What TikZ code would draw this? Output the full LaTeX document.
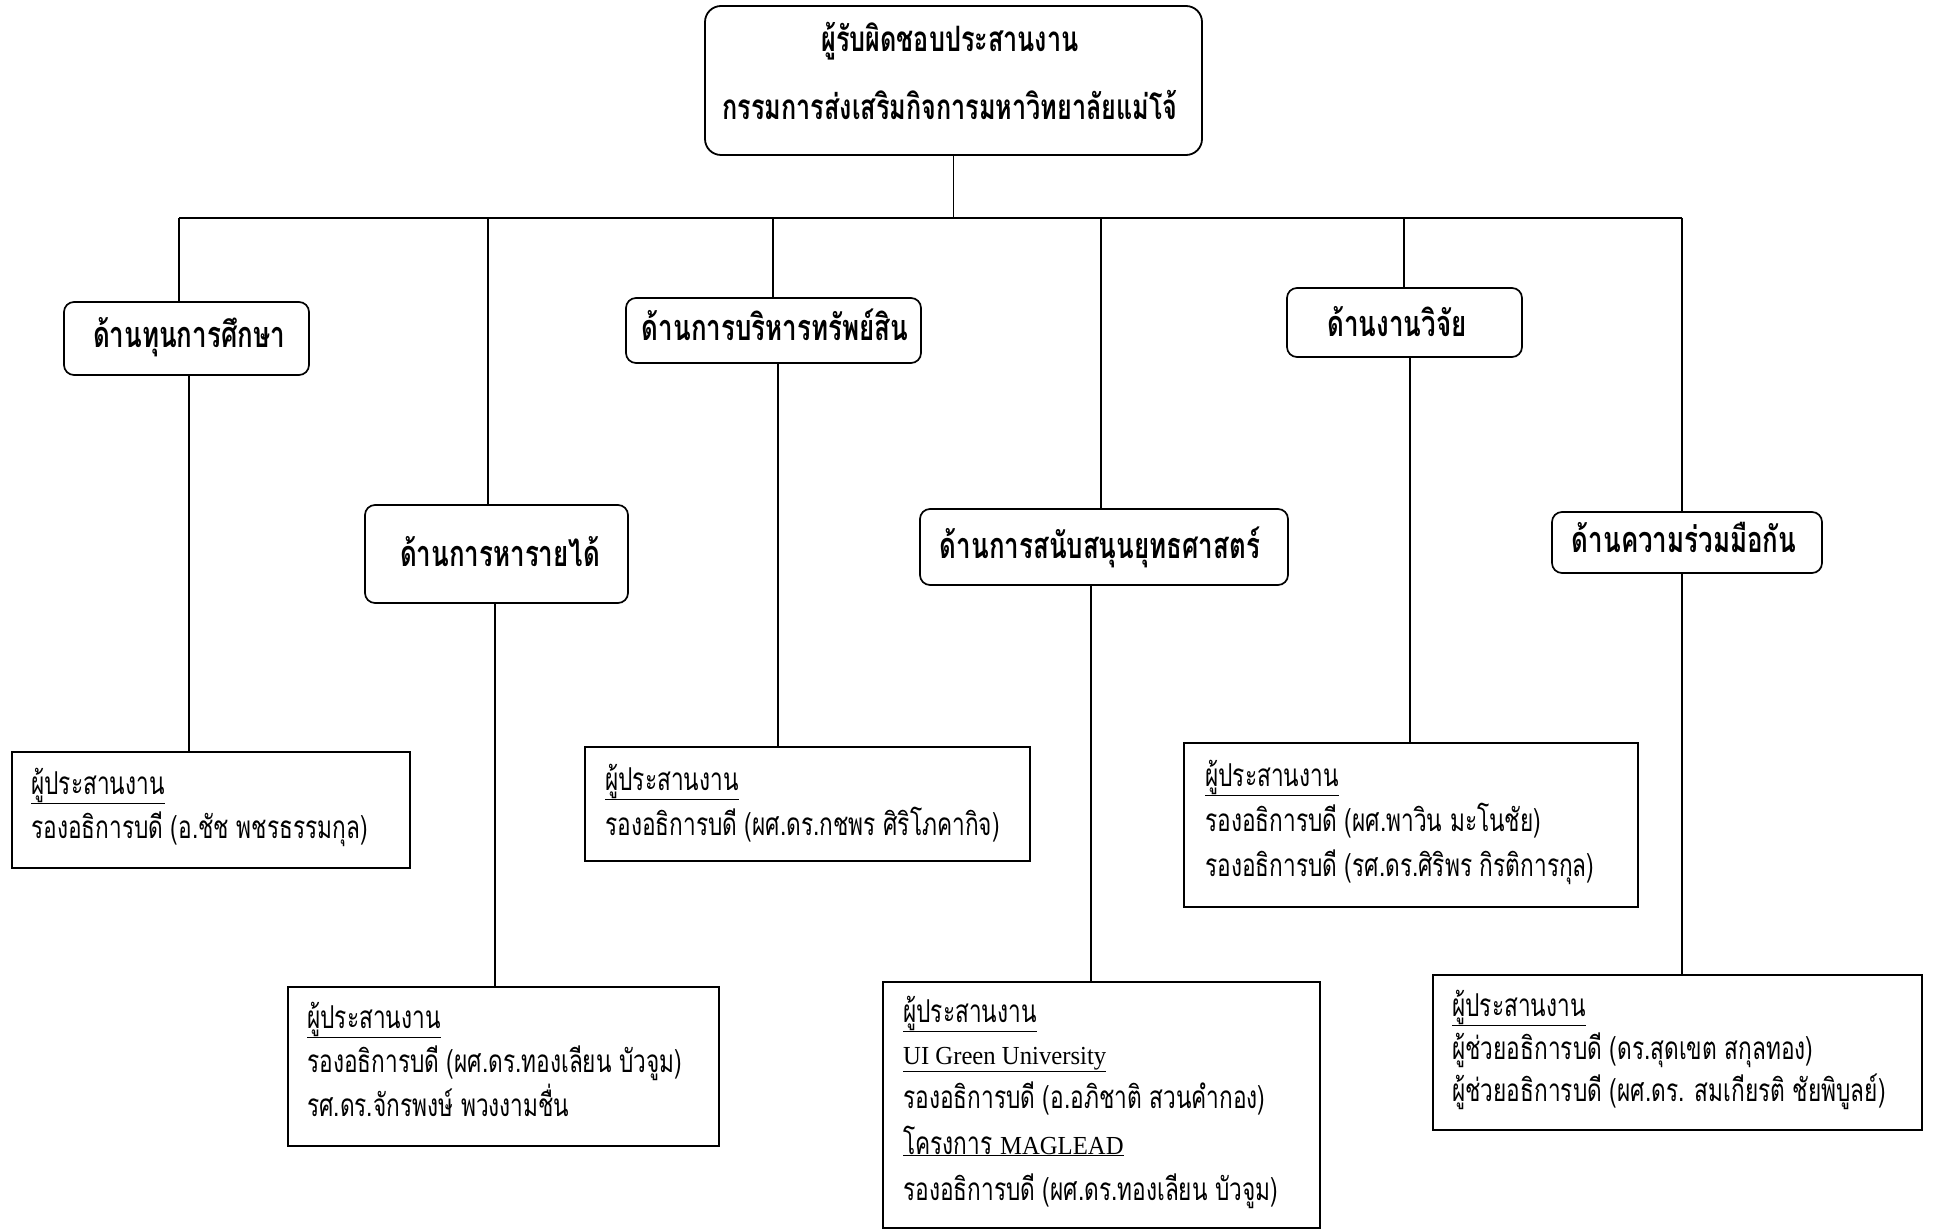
\documentclass[tikz,border=0pt]{standalone}
\usepackage{fontspec}
\newfontfamily\thai[Script=Thai,FakeStretch=0.72]{Loma}
\newfontfamily\lat[FakeStretch=0.95]{Liberation Serif}
\begin{document}
\begin{tikzpicture}[x=1pt,y=-1pt,
 topbox/.style={draw,line width=1.8pt,rounded corners=16pt},
 headbox/.style={draw,line width=1.7pt,rounded corners=10pt},
 infobox/.style={draw,line width=1.5pt},
 conn/.style={line width=1.4pt},
 ttl/.style={font=\thai\bfseries\fontsize{35}{40}\selectfont, inner sep=0pt, anchor=base},
 htxt/.style={font=\thai\bfseries\fontsize{36}{40}\selectfont, inner sep=0pt, anchor=base},
 itxt/.style={font=\thai\fontsize{31.5}{36}\selectfont, inner sep=0pt, anchor=base west},
 ltxt/.style={font=\lat\fontsize{26}{30}\selectfont}]
\useasboundingbox[fill=white] (0,0) rectangle (1936,1230);

% top box
\node[topbox, minimum width=497pt, minimum height=149pt] (top) at (953.5,80.5) {};
\node[ttl] (t1) at (950,52) {ผู้รับผิดชอบประสานงาน};
\node[ttl] (t2) at (950,120) {กรรมการส่งเสริมกิจการมหาวิทยาลัยแม่โจ้};

% level-1 boxes
\node[headbox, minimum width=245pt, minimum height=73pt] (L1) at (186.5,338.5) {};
\node[headbox, minimum width=263pt, minimum height=98pt] (L2) at (496.5,554) {};
\node[headbox, minimum width=295pt, minimum height=65pt] (L3) at (773.5,330.5) {};
\node[headbox, minimum width=368pt, minimum height=76pt] (L4) at (1104,547) {};
\node[headbox, minimum width=235pt, minimum height=69pt] (L5) at (1404.5,322.5) {};
\node[headbox, minimum width=270pt, minimum height=61pt] (L6) at (1687,542.5) {};

\node[htxt] (h1) at (189,348) {ด้านทุนการศึกษา};
\node[htxt] (h2) at (500,566) {ด้านการหารายได้};
\node[htxt] (h3) at (775,341) {ด้านการบริหารทรัพย์สิน};
\node[htxt] (h4) at (1100,558) {ด้านการสนับสนุนยุทธศาสตร์};
\node[htxt] (h5) at (1397,337) {ด้านงานวิจัย};
\node[htxt] (h6) at (1684,552) {ด้านความร่วมมือกัน};

% level-2 boxes
\node[infobox, minimum width=398pt, minimum height=116pt] (A) at (211,810) {};
\node[infobox, minimum width=431pt, minimum height=159pt] (B) at (503.5,1066.5) {};
\node[infobox, minimum width=445pt, minimum height=114pt] (C) at (807.5,804) {};
\node[infobox, minimum width=437pt, minimum height=246pt] (D) at (1101.5,1105) {};
\node[infobox, minimum width=454pt, minimum height=164pt] (E) at (1411,825) {};
\node[infobox, minimum width=489pt, minimum height=155pt] (F) at (1677.5,1052.5) {};

\node[itxt] (a1) at (31,794) {\underline{ผู้ประสานงาน}};
\node[itxt] (a2) at (31,838) {รองอธิการบดี (อ.ชัช พชรธรรมกุล)};

\node[itxt] (b1) at (307,1028) {\underline{ผู้ประสานงาน}};
\node[itxt] (b2) at (307,1072) {รองอธิการบดี (ผศ.ดร.ทองเลียน บัวจูม)};
\node[itxt] (b3) at (307,1116) {รศ.ดร.จักรพงษ์ พวงงามชื่น};

\node[itxt] (c1) at (605,790) {\underline{ผู้ประสานงาน}};
\node[itxt] (c2) at (605,835) {รองอธิการบดี (ผศ.ดร.กชพร ศิริโภคากิจ)};

\node[itxt] (d1) at (903,1022) {\underline{ผู้ประสานงาน}};
\node[itxt, ltxt] (d2) at (903,1064) {\underline{UI Green University}};
\node[itxt] (d3) at (903,1108) {รองอธิการบดี (อ.อภิชาติ สวนคำกอง)};
\node[itxt] (d4) at (903,1154) {\underline{โครงการ {\lat\fontsize{26}{30}\selectfont MAGLEAD}}};
\node[itxt] (d5) at (903,1200) {รองอธิการบดี (ผศ.ดร.ทองเลียน บัวจูม)};

\node[itxt] (e1) at (1205,786) {\underline{ผู้ประสานงาน}};
\node[itxt] (e2) at (1205,831) {รองอธิการบดี (ผศ.พาวิน มะโนชัย)};
\node[itxt] (e3) at (1205,876) {รองอธิการบดี (รศ.ดร.ศิริพร กิรติการกุล)};

\node[itxt] (f1) at (1452,1016) {\underline{ผู้ประสานงาน}};
\node[itxt] (f2) at (1452,1059) {ผู้ช่วยอธิการบดี (ดร.สุดเขต สกุลทอง)};
\node[itxt] (f3) at (1452,1101) {ผู้ช่วยอธิการบดี (ผศ.ดร. สมเกียรติ ชัยพิบูลย์)};

% connectors
\coordinate (bus) at (0,218);
\coordinate (p1) at (179,218);
\coordinate (p2) at (488,218);
\coordinate (p3) at (773,218);
\coordinate (p4) at (1101,218);
\coordinate (p5) at (1404,218);
\coordinate (p6) at (1682,218);
\draw[conn] (top.south) -- (top.south |- bus);
\draw[conn] (p1) -- (p6);
\draw[conn] (p1) -- (p1 |- L1.north);
\draw[conn] (p2) -- (p2 |- L2.north);
\draw[conn] (p3) -- (p3 |- L3.north);
\draw[conn] (p4) -- (p4 |- L4.north);
\draw[conn] (p5) -- (p5 |- L5.north);
\draw[conn] (p6) -- (p6 |- L6.north);

\coordinate (q1) at (189,0);
\coordinate (q2) at (495,0);
\coordinate (q3) at (778,0);
\coordinate (q4) at (1091,0);
\coordinate (q5) at (1410,0);
\coordinate (q6) at (1682,0);
\draw[conn] (q1 |- L1.south) -- (q1 |- A.north);
\draw[conn] (q2 |- L2.south) -- (q2 |- B.north);
\draw[conn] (q3 |- L3.south) -- (q3 |- C.north);
\draw[conn] (q4 |- L4.south) -- (q4 |- D.north);
\draw[conn] (q5 |- L5.south) -- (q5 |- E.north);
\draw[conn] (q6 |- L6.south) -- (q6 |- F.north);
\end{tikzpicture}
\end{document}
